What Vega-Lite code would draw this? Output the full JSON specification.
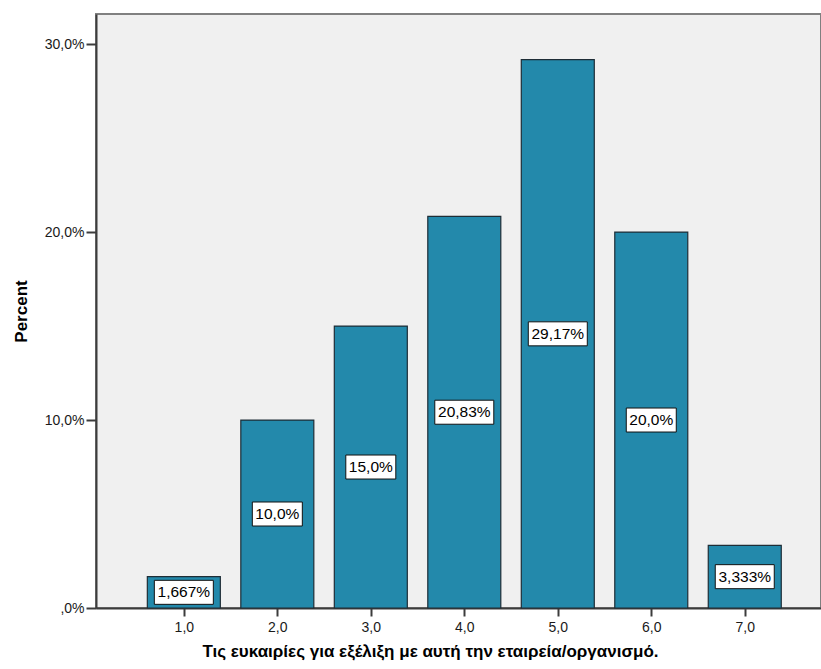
{
  "$schema": "https://vega.github.io/schema/vega-lite/v6.json",
  "width": 725,
  "height": 594,
  "autosize": "none",
  "padding": {"left": 96, "top": 14, "right": 0, "bottom": 61},
  "background": "white",
  "config": {
    "font": "Liberation Sans",
    "view": {"fill": "#f0f0f0", "stroke": "#808080", "strokeWidth": 2},
    "axis": {
      "domainColor": "#3c3c3c",
      "domainWidth": 2,
      "tickColor": "#3c3c3c",
      "tickWidth": 2,
      "labelFont": "Liberation Sans",
      "labelFontSize": 14,
      "labelColor": "#1a1a1a",
      "titleFont": "Liberation Sans",
      "titleFontWeight": "bold",
      "titleColor": "#000000",
      "grid": false
    }
  },
  "data": {
    "values": [
      {"category": 1, "percent": 1.667, "label": "1,667%"},
      {"category": 2, "percent": 10.0, "label": "10,0%"},
      {"category": 3, "percent": 15.0, "label": "15,0%"},
      {"category": 4, "percent": 20.83, "label": "20,83%"},
      {"category": 5, "percent": 29.17, "label": "29,17%"},
      {"category": 6, "percent": 20.0, "label": "20,0%"},
      {"category": 7, "percent": 3.333, "label": "3,333%"}
    ]
  },
  "transform": [{"calculate": "datum.percent / 2", "as": "mid"}],
  "encoding": {
    "x": {
      "field": "category",
      "type": "quantitative",
      "scale": {"domain": [0.114, 7.762], "nice": false, "zero": false},
      "axis": {
        "values": [1, 2, 3, 4, 5, 6, 7],
        "labelExpr": "replace(format(datum.value, '.1f'), '.', ',')",
        "tickSize": 8,
        "labelPadding": 4,
        "title": "Τις ευκαιρίες για εξέλιξη με αυτή την εταιρεία/οργανισμό.",
        "titleFontSize": 17,
        "titleX": 334,
        "titleAnchor": "middle",
        "titlePadding": 9
      }
    }
  },
  "layer": [
    {
      "mark": {"type": "bar", "size": 73, "fill": "#2389ab", "stroke": "#1e2d36", "strokeWidth": 1.2},
      "encoding": {
        "y": {
          "field": "percent",
          "type": "quantitative",
          "scale": {"domain": [0, 31.6], "nice": false},
          "axis": {
            "values": [0, 10, 20, 30],
            "labelExpr": "datum.value == 0 ? ',0%' : replace(format(datum.value, '.1f'), '.', ',') + '%'",
            "tickSize": 10,
            "labelPadding": 2,
            "title": "Percent",
            "titleFontSize": 17,
            "titlePadding": 14
          }
        }
      }
    },
    {
      "mark": {
        "type": "point",
        "filled": true,
        "fill": "white",
        "stroke": "#111111",
        "strokeWidth": 1,
        "opacity": 1
      },
      "encoding": {
        "y": {"field": "mid", "type": "quantitative"},
        "shape": {
          "condition": {"test": "length(datum.label) > 5", "value": "M-1,-0.407H1V0.407H-1Z"},
          "value": "M-1,-0.48H1V0.48H-1Z"
        },
        "size": {
          "condition": {"test": "length(datum.label) > 5", "value": 3481},
          "value": 2500
        }
      }
    },
    {
      "mark": {"type": "text", "fontSize": 15.5, "color": "#000000", "baseline": "middle", "align": "center"},
      "encoding": {
        "y": {"field": "mid", "type": "quantitative"},
        "text": {"field": "label"}
      }
    }
  ]
}
